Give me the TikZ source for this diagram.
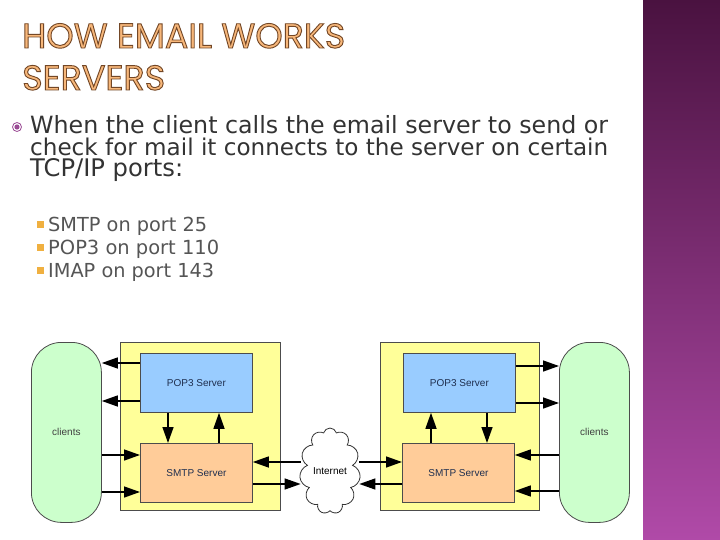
\documentclass[tikz,border=0pt]{standalone}
\usepackage{fontspec}
\setmainfont{DejaVu Sans}
\newfontfamily\titlefont{Poppins}
\newfontfamily\diafont{Liberation Sans}
\usetikzlibrary{shapes.symbols,arrows.meta}
\definecolor{panelTop}{HTML}{4A1240}
\definecolor{panelBot}{HTML}{B04AA8}
\definecolor{yellowBox}{HTML}{FFFF99}
\definecolor{popBlue}{HTML}{99CCFF}
\definecolor{smtpOrange}{HTML}{FFCC99}
\definecolor{clientGreen}{HTML}{CCFFCC}
\definecolor{bodyText}{HTML}{333333}
\definecolor{subText}{HTML}{555555}
\definecolor{titleFill}{HTML}{F7B77A}
\definecolor{bulletOrange}{HTML}{F0B040}
\definecolor{bulletPurple}{HTML}{9A4A94}
\definecolor{labelText}{HTML}{1F2F4F}
\tikzset{
  box/.style={draw=black!70, line width=0.8pt, inner sep=0pt, anchor=north west},
  server/.style={box, font=\diafont\fontsize{10}{12}\selectfont, text=labelText},
  clientbox/.style={draw=black!70, line width=0.8pt, fill=clientGreen, rounded corners=30pt,
    minimum width=70pt, minimum height=180pt, anchor=north west,
    font=\diafont\fontsize{10}{12}\selectfont, text=black!75},
  conn/.style={line width=1.4pt, -{Triangle[length=16pt,width=11pt]}},
  body/.style={anchor=base west, inner sep=0pt, text=bodyText, font=\fontsize{21}{21}\selectfont},
  sub/.style={anchor=base west, inner sep=0pt, text=subText, font=\fontsize{19}{19}\selectfont},
  ttl/.style={anchor=base west, inner sep=0pt, font=\titlefont\fontsize{34}{34}\selectfont}
}
\newcommand{\outlined}[1]{\special{pdf:literal direct 2 Tr 0.9 w 0.45 0.28 0.15 RG}#1\special{pdf:literal direct 0 Tr}}
\begin{document}
\begin{tikzpicture}[x=1pt,y=-1pt]
\useasboundingbox (0,0) rectangle (720,540);
\fill[white] (0,0) rectangle (720,540);
\shade[top color=panelTop, bottom color=panelBot] (643,0) rectangle (720,540);
% title
\node[ttl] (t1) at (22,48) {\resizebox{323pt}{!}{\color{titleFill}\outlined{HOW EMAIL WORKS}}};
\node[ttl] (t2) at (22,90) {\resizebox{143pt}{!}{\color{titleFill}\outlined{SERVERS}}};
% bullets
\node[circle, draw=bulletPurple, line width=0.8pt, fill=white, minimum size=9pt, inner sep=0pt] (b0) at (17,127) {};
\fill[bulletPurple] (b0.center) circle (2.6pt);
\node[body] (l1) at (30,134) {\resizebox{578pt}{!}{When the client calls the email server to send or}};
\node[body] (l2) at (30,156) {\resizebox{578pt}{!}{check for mail it connects to the server on certain}};
\node[body] (l3) at (30,177) {\resizebox{153pt}{!}{TCP/IP ports:}};
\foreach \yy/\txt/\w [count=\i] in {231/SMTP on port 25/159, 254/POP3 on port 110/171, 277/IMAP on port 143/166}{
  \fill[bulletOrange] (37,\yy-10) rectangle (44,\yy-3);
  \node[sub] (s\i) at (48,\yy) {\resizebox{\w pt}{!}{\txt}};
}
% diagram
\node[clientbox] (cl) at (31,342) {clients};
\node[box, fill=yellowBox, minimum width=160pt, minimum height=168pt] (yl) at (120,342) {};
\node[server, fill=popBlue, minimum width=112pt, minimum height=59pt] (pl) at (140,353) {POP3 Server};
\node[server, fill=smtpOrange, minimum width=112pt, minimum height=59pt] (sl) at (140,443) {SMTP Server};
\node[cloud, draw=black!80, line width=0.8pt, fill=white, cloud puffs=11, aspect=0.7,
  minimum width=60pt, minimum height=86pt, inner sep=0pt,
  font=\diafont\fontsize{10}{12}\selectfont] (net) at (330,471) {Internet};
\node[box, fill=yellowBox, minimum width=159pt, minimum height=168pt] (yr) at (380,342) {};
\node[server, fill=popBlue, minimum width=112pt, minimum height=59pt] (pr) at (403,353) {POP3 Server};
\node[server, fill=smtpOrange, minimum width=112pt, minimum height=59pt] (sr) at (402,443) {SMTP Server};
\node[clientbox] (cr) at (559,342) {clients};
% left connectors
\draw[conn] (pl.west|-0,363) -- (cl.east|-0,363);
\draw[conn] (pl.west|-0,401) -- (cl.east|-0,401);
\draw[conn] (cl.east|-0,455) -- (sl.west|-0,455);
\draw[conn] (cl.east|-0,492) -- (sl.west|-0,492);
\draw[conn] (pl.south-|168,0) -- (sl.north-|168,0);
\draw[conn] (sl.north-|219,0) -- (pl.south-|219,0);
\draw[conn] (net.west|-0,462) -- (sl.east|-0,462);
\draw[conn] (sl.east|-0,484) -- (net.west|-0,484);
% right connectors
\draw[conn] (pr.east|-0,366) -- (cr.west|-0,366);
\draw[conn] (pr.east|-0,403) -- (cr.west|-0,403);
\draw[conn] (cr.west|-0,455) -- (sr.east|-0,455);
\draw[conn] (cr.west|-0,491) -- (sr.east|-0,491);
\draw[conn] (sr.north-|431,0) -- (pr.south-|431,0);
\draw[conn] (pr.south-|487,0) -- (sr.north-|487,0);
\draw[conn] (net.east|-0,462) -- (sr.west|-0,462);
\draw[conn] (sr.west|-0,484) -- (net.east|-0,484);
\end{tikzpicture}
\end{document}
